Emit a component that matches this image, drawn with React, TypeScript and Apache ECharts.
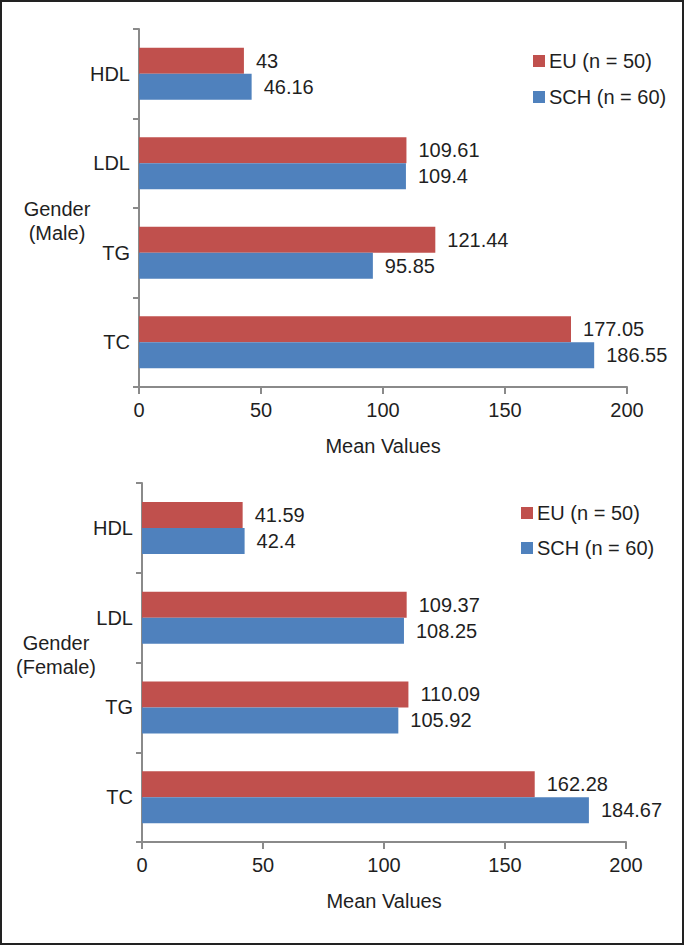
import React, { useEffect, useRef } from "react";
import * as echarts from "echarts";

const categories = ["HDL", "LDL", "TG", "TC"];
const maleEU = [43, 109.61, 121.44, 177.05];
const maleSCH = [46.16, 109.4, 95.85, 186.55];
const femaleEU = [41.59, 109.37, 110.09, 162.28];
const femaleSCH = [42.4, 108.25, 105.92, 184.67];
const xTicks = { min: 0, max: 200, interval: 50 };
const seriesNames = ["EU (n = 50)", "SCH (n = 60)"];
const axisTitle = "Mean Values";
const panelTitles = ["Gender\n(Male)", "Gender\n(Female)"];

const RED = "#C0504D";
const BLUE = "#4F81BD";
const TEXT = "#1f1f1f";
const AXIS = "#8a8a8a";
const FONT = "'Liberation Sans', Arial, sans-serif";
const FS = 20;

export default function App() {
  const ref = useRef<HTMLDivElement>(null);
  useEffect(() => {
    document.body.style.margin = "0";
    if (!ref.current) return;
    const chart = echarts.init(ref.current, null, { renderer: "svg" });
    const cats = categories.slice().reverse();
    const rev = (a: number[]) => a.slice().reverse();

    const grids = [
      { left: 139, top: 29, width: 488, height: 358 },
      { left: 142, top: 483, width: 484, height: 359 },
    ];

    const xAxis = grids.map((_, i) => ({
      type: "value",
      gridIndex: i,
      min: xTicks.min,
      max: xTicks.max,
      interval: xTicks.interval,
      name: axisTitle,
      nameLocation: "middle",
      nameGap: 49,
      nameTextStyle: { fontSize: FS, color: TEXT, fontFamily: FONT },
      axisLine: { show: true, lineStyle: { color: AXIS, width: 2 } },
      axisTick: { show: true, length: 7, lineStyle: { color: AXIS, width: 2 } },
      axisLabel: { fontSize: FS, color: TEXT, fontFamily: FONT, margin: 13 },
      splitLine: { show: false },
    }));

    const yAxis = grids.map((_, i) => ({
      type: "category",
      gridIndex: i,
      data: cats,
      axisLine: { show: true, lineStyle: { color: AXIS, width: 2 } },
      axisTick: { show: true, length: 6, lineStyle: { color: AXIS, width: 2 } },
      axisLabel: { fontSize: FS, color: TEXT, fontFamily: FONT, margin: 9 },
      splitLine: { show: false },
    }));

    const label = {
      show: true,
      position: "right",
      distance: 12,
      fontSize: FS,
      color: TEXT,
      fontFamily: FONT,
    };

    const mk = (name: string, data: number[], idx: number, color: string) => ({
      name,
      type: "bar",
      xAxisIndex: idx,
      yAxisIndex: idx,
      data: rev(data),
      barWidth: 26,
      barGap: "0%",
      itemStyle: { color },
      label,
    });

    const series = [
      mk(seriesNames[0], maleEU, 0, RED),
      mk(seriesNames[1], maleSCH, 0, BLUE),
      mk(seriesNames[0], femaleEU, 1, RED),
      mk(seriesNames[1], femaleSCH, 1, BLUE),
    ];

    const legendBase = {
      orient: "vertical",
      icon: "rect",
      itemWidth: 12,
      itemHeight: 12,
      padding: 0,
      selectedMode: false,
      data: [seriesNames[0], seriesNames[1]],
      textStyle: { fontSize: FS, color: TEXT, fontFamily: FONT, lineHeight: 20, padding: [0, 0, 0, -1] },
    };

    chart.setOption({
      animation: false,
      backgroundColor: "#ffffff",
      grid: grids,
      xAxis,
      yAxis,
      series,
      legend: [
        { ...legendBase, left: 533, top: 51, itemGap: 16 },
        { ...legendBase, left: 521, top: 503, itemGap: 15 },
      ],
      graphic: [
        {
          type: "rect",
          shape: { x: 1, y: 1, width: 682, height: 943 },
          style: { fill: "none", stroke: "#222222", lineWidth: 2 },
          silent: true,
        },
        {
          type: "text",
          x: 57,
          y: 221,
          style: {
            text: panelTitles[0],
            fontSize: FS,
            lineHeight: 24,
            fill: TEXT,
            fontFamily: FONT,
            align: "center",
            verticalAlign: "middle",
          },
        },
        {
          type: "text",
          x: 56,
          y: 655,
          style: {
            text: panelTitles[1],
            fontSize: FS,
            lineHeight: 24,
            fill: TEXT,
            fontFamily: FONT,
            align: "center",
            verticalAlign: "middle",
          },
        },
      ],
    });
    return () => chart.dispose();
  }, []);
  return <div ref={ref} style={{ width: 684, height: 945 }} />;
}
